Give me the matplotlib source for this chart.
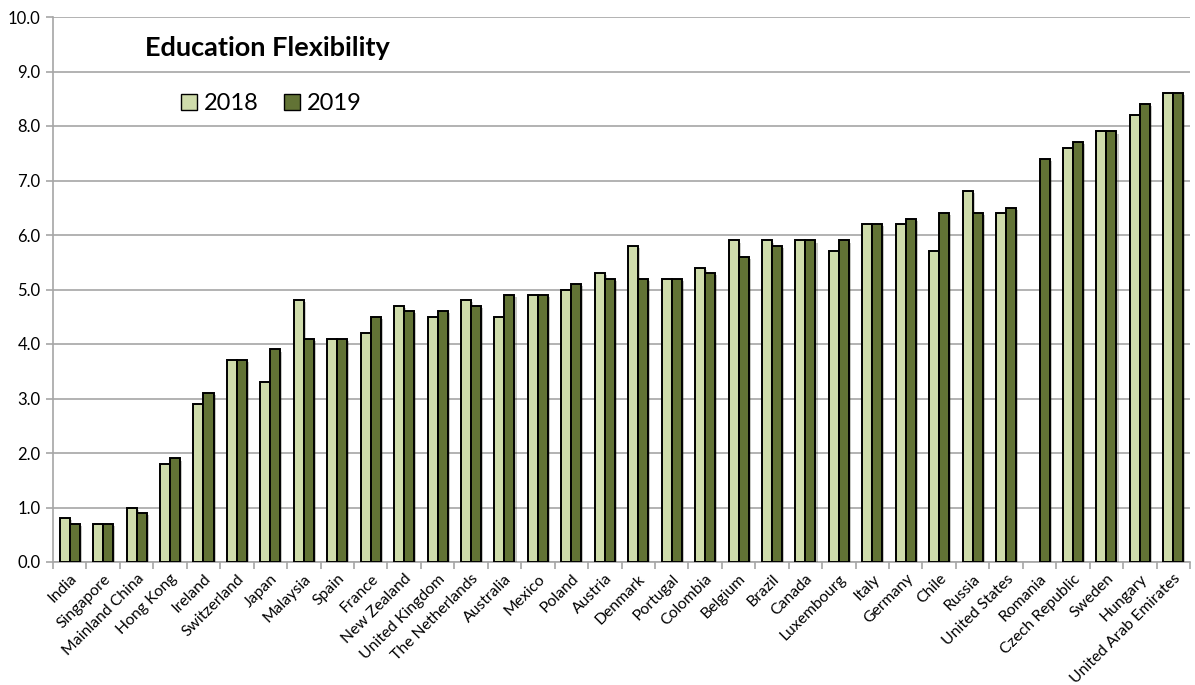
import numpy as np
import matplotlib
matplotlib.use("Agg")
import matplotlib.pyplot as plt
from matplotlib.patches import Patch
import matplotlib.patheffects as pe

plt.rcParams['font.family'] = ['Lato', 'DejaVu Sans']

# countries, ordered as in the chart
countries = ["India", "Singapore", "Mainland China", "Hong Kong", "Ireland", "Switzerland",
             "Japan", "Malaysia", "Spain", "France", "New Zealand", "United Kingdom",
             "The Netherlands", "Australia", "Mexico", "Poland", "Austria", "Denmark",
             "Portugal", "Colombia", "Belgium", "Brazil", "Canada", "Luxembourg", "Italy",
             "Germany", "Chile", "Russia", "United States", "Romania", "Czech Republic",
             "Sweden", "Hungary", "United Arab Emirates"]

score_2018 = [0.8, 0.7, 1.0, 1.8, 2.9, 3.7, 3.3, 4.8, 4.1, 4.2, 4.7, 4.5, 4.8, 4.5, 4.9,
              5.0, 5.3, 5.8, 5.2, 5.4, 5.9, 5.9, 5.9, 5.7, 6.2, 6.2, 5.7, 6.8, 6.4,
              np.nan, 7.6, 7.9, 8.2, 8.6]
score_2019 = [0.7, 0.7, 0.9, 1.9, 3.1, 3.7, 3.9, 4.1, 4.1, 4.5, 4.6, 4.6, 4.7, 4.9, 4.9,
              5.1, 5.2, 5.2, 5.2, 5.3, 5.6, 5.8, 5.9, 5.9, 6.2, 6.3, 6.4, 6.4, 6.5,
              7.4, 7.7, 7.9, 8.4, 8.6]

light = "#cfdcab"
dark = "#627335"
grey = "#a6a6a6"

fig = plt.figure(figsize=(11.95, 6.85), dpi=100)
ax = fig.add_axes([53/1195, 1 - 562/685, (1190 - 53)/1195, (562 - 17)/685])

x = np.arange(len(countries))
w = 0.3
shadow = [pe.SimplePatchShadow(offset=(1.5, -1.5), alpha=0.25), pe.Normal()]
b1 = ax.bar(x - w/2, score_2018, w, color=light, edgecolor="black", linewidth=1.4, zorder=3)
b2 = ax.bar(x + w/2, score_2019, w, color=dark, edgecolor="black", linewidth=1.4, zorder=3)
for r in list(b1) + list(b2):
    r.set_path_effects(shadow)

ax.set_xlim(-0.5, len(countries) - 0.5)
ax.set_ylim(0, 10)
ax.set_yticks(np.arange(0, 10.01, 1.0))
ax.set_yticklabels(["%.1f" % v for v in np.arange(0, 10.01, 1.0)], fontsize=12)
ax.yaxis.grid(True, color=grey, linewidth=1.2, zorder=0)
ax.set_axisbelow(True)

# ticks between categories, labels at the centres
ax.set_xticks(np.arange(len(countries) + 1) - 0.5)
ax.set_xticklabels([])
ax.set_xticks(x, minor=True)
ax.set_xticklabels(countries, minor=True, rotation=45, ha="right",
                   rotation_mode="anchor", fontsize=11.3)
ax.tick_params(axis="x", which="minor", length=0, pad=7)
ax.tick_params(axis="x", which="major", length=5, color=grey, width=1.2)
ax.tick_params(axis="y", length=5, color=grey, width=1.2, pad=4)

for s in ["top", "right"]:
    ax.spines[s].set_visible(False)
for s in ["left", "bottom"]:
    ax.spines[s].set_color(grey)
    ax.spines[s].set_linewidth(1.2)

fig.text(145/1195, 1 - 48/685, "Education Flexibility", fontsize=19.5, fontweight="bold",
         va="center", ha="left")

handles = [Patch(facecolor=light, edgecolor="black"), Patch(facecolor=dark, edgecolor="black")]
fig.legend(handles, ["2018", "2019"], loc="center left", bbox_to_anchor=(160/1195, 1 - 104/685),
           ncol=2, frameon=False, fontsize=17, handlelength=0.65, handleheight=0.65,
           handletextpad=0.3, columnspacing=1.1)

fig.savefig("out.png", dpi=100)
